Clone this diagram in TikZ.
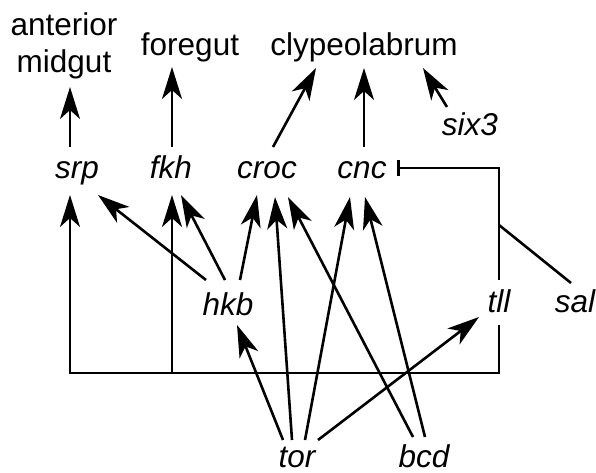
\documentclass[tikz,border=0pt]{standalone}
\usepackage{fontspec}
\setmainfont{Liberation Sans}
\usetikzlibrary{arrows.meta}

\begin{document}
\begin{tikzpicture}[
    x=1pt, y=-1pt,
    every node/.style={inner sep=0pt, anchor=base, font=\fontsize{31.5}{37}\selectfont},
    tissue/.style={},
    gene/.style={font=\fontsize{31.5}{37}\selectfont\itshape},
    link/.style={line width=2.6pt},
    arr/.style={link, -{Stealth[length=32pt, width=20pt, inset=9pt]}},
    inh/.style={link, -{Bar[width=16pt]}},
  ]
  \useasboundingbox (0,0) rectangle (596,472);

  % tissues
  \node[tissue, align=center, anchor=south] (amg) at (64,79.5) {anterior\\midgut};
  \node[tissue] (fg) at (190,55) {foregut};
  \node[tissue] (cl) at (364,55) {clypeolabrum};

  % genes
  \node[gene] (srp)  at (77,178)  {srp};
  \node[gene] (fkh)  at (171,178) {fkh};
  \node[gene] (croc) at (267,178) {croc};
  \node[gene] (cnc)  at (362,178) {cnc};
  \node[gene] (six3) at (470,135) {six3};
  \node[gene] (hkb)  at (228,315) {hkb};
  \node[gene] (tll)  at (499,312) {tll};
  \node[gene] (sal)  at (575,312) {sal};
  \node[gene] (tor)  at (297,467) {tor};
  \node[gene] (bcd)  at (424,467) {bcd};

  % genes to tissues
  \draw[arr] ([shift={(-7,-31)}]srp.base) -- ([shift={(6,7.5)}]amg.south);
  \draw[arr] ([shift={(1,-31)}]fkh.base) -- ([shift={(-18,12)}]fg.base);
  \draw[arr] ([shift={(6,-31)}]croc.base) -- ([shift={(-48,13)}]cl.base);
  \draw[arr] ([shift={(2,-31)}]cnc.base) -- ([shift={(0,13)}]cl.base);
  \draw[arr] ([shift={(-23,-28)}]six3.base) -- ([shift={(59,13)}]cl.base);

  % hkb targets
  \draw[arr] ([shift={(-22,-35)}]hkb.base) -- ([shift={(21,17)}]srp.base);
  \draw[arr] ([shift={(-3,-35)}]hkb.base) -- ([shift={(10,17)}]fkh.base);
  \draw[arr] ([shift={(12,-35)}]hkb.base) -- ([shift={(-10,17)}]croc.base);

  % tor targets
  \draw[arr] ([shift={(-14,-27)}]tor.base) -- ([shift={(9,10)}]hkb.base);
  \draw[arr] ([shift={(-5,-27)}]tor.base) -- ([shift={(8,19)}]croc.base);
  \draw[arr] ([shift={(8,-27)}]tor.base) -- ([shift={(-12,19)}]cnc.base);
  \draw[arr] ([shift={(21,-27)}]tor.base) -- ([shift={(-20,5)}]tll.base);

  % bcd targets
  \draw[arr] ([shift={(-11,-30)}]bcd.base) -- ([shift={(21,19)}]croc.base);
  \draw[arr] ([shift={(1,-30)}]bcd.base) -- ([shift={(3,19)}]cnc.base);

  % tll activates srp and fkh
  \draw[arr] ([shift={(0,13)}]tll.base) -- ++(0,48) -| ([shift={(-7,17)}]srp.base);
  \draw[arr] ([shift={(1,195)}]fkh.base) -- ([shift={(1,17)}]fkh.base);

  % tll represses cnc, joined by sal
  \draw[inh] ([shift={(0,-32)}]tll.base) |- ([shift={(35,-10)}]cnc.base);
  \draw[link] ([shift={(-4,-29)}]sal.base) -- ([shift={(0,-87)}]tll.base);
\end{tikzpicture}
\end{document}
